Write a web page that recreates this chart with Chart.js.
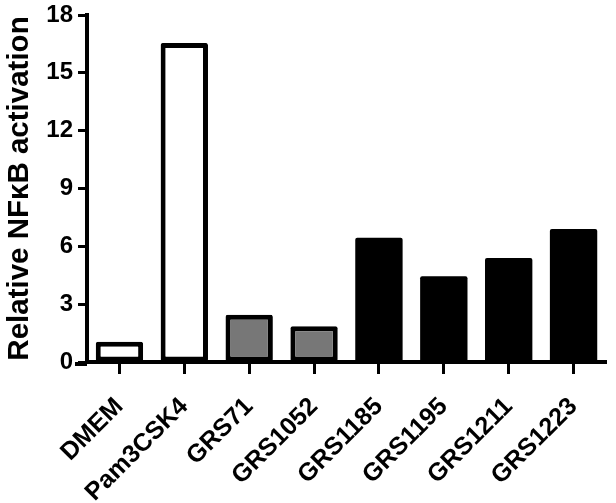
<!DOCTYPE html>
<html>
<head>
<meta charset="utf-8">
<script src="https://cdn.jsdelivr.net/npm/chart.js@4.4.1/dist/chart.umd.min.js"></script>
<style>
  html, body { margin: 0; padding: 0; background: #ffffff; }
  #wrap { width: 616px; height: 503px; }
</style>
</head>
<body>
<div id="wrap"><canvas id="c" width="616" height="503"></canvas></div>
<script>
const categories = ["DMEM", "Pam3CSK4", "GRS71", "GRS1052", "GRS1185", "GRS1195", "GRS1211", "GRS1223"];
const activation = [1.05, 16.55, 2.45, 1.85, 6.45, 4.45, 5.4, 6.9];
const fillColors = ["#ffffff", "#ffffff", "#777777", "#777777", "#000000", "#000000", "#000000", "#000000"];
const borderWidths = [5, 5, 5, 5, 0, 0, 0, 0];
const yTicks = [0, 3, 6, 9, 12, 15, 18];
const yTitle = "Relative NFκB activation";

const FONT = "'Liberation Sans', Arial, Helvetica, sans-serif";

const axisExtend = {
  id: 'axisExtend',
  afterDraw(chart) {
    const { ctx, chartArea } = chart;
    const xs = chart.scales.x;
    ctx.save();
    ctx.fillStyle = '#000000';
    ctx.fillRect(chartArea.left - 12, xs.top, 12, 4);
    ctx.restore();
  }
};

new Chart(document.getElementById('c'), {
  type: 'bar',
  data: {
    labels: categories,
    datasets: [{
      data: activation,
      backgroundColor: fillColors,
      borderColor: '#000000',
      borderWidth: borderWidths,
      borderRadius: 2,
      borderSkipped: false,
      barPercentage: 0.73,
      categoryPercentage: 1.0
    }]
  },
  plugins: [axisExtend],
  options: {
    responsive: false,
    animation: false,
    devicePixelRatio: 1,
    layout: { padding: { top: 15, right: 10, left: 0, bottom: 0 } },
    plugins: { legend: { display: false }, tooltip: { enabled: false } },
    scales: {
      x: {
        offset: true,
        border: { display: true, width: 4, color: '#000000' },
        grid: { display: true, drawOnChartArea: false, offset: false, tickLength: 12, tickWidth: 3, color: '#000000' },
        ticks: {
          color: '#000000',
          font: { family: FONT, size: 25, weight: 'bold' },
          minRotation: 45, maxRotation: 45,
          padding: 18,
          autoSkip: false
        },
        afterFit: (s) => { s.height = 141; s.paddingLeft = 0; s.paddingRight = 0; }
      },
      y: {
        min: 0, max: 18,
        border: { display: true, width: 4, color: '#000000' },
        grid: { display: true, drawOnChartArea: false, tickLength: 9, tickWidth: 3, color: '#000000' },
        afterBuildTicks: (s) => { s.ticks = yTicks.map(v => ({ value: v })); },
        ticks: {
          color: '#000000',
          font: { family: FONT, size: 24, weight: 'bold' },
          padding: 5
        },
        title: {
          display: true,
          text: yTitle,
          color: '#000000',
          font: { family: FONT, size: 29.5, weight: 'bold' },
          padding: { top: 2, bottom: 0 }
        },
        afterFit: (s) => { s.width = 87; s.paddingTop = 0; s.paddingBottom = 0; }
      }
    }
  }
});
</script>
</body>
</html>
